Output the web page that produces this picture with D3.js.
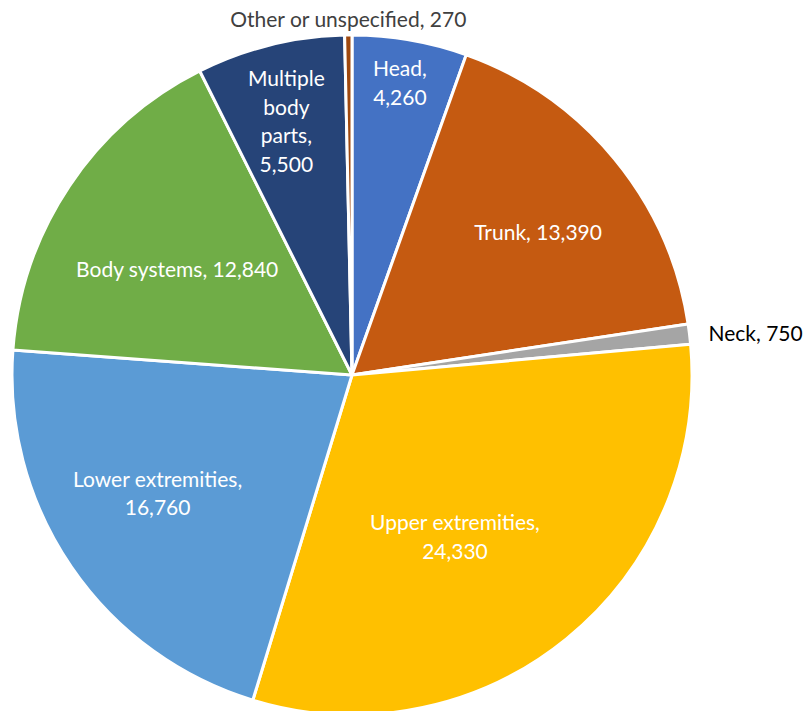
<!DOCTYPE html>
<html><head><meta charset="utf-8">
<script src="https://cdn.jsdelivr.net/npm/d3@7"></script>
<style>body{margin:0;background:#fff}svg{display:block}</style>
</head><body>
<svg id="c" width="808" height="711"></svg>
<script>
const categories = ["Head","Trunk","Neck","Upper extremities","Lower extremities","Body systems","Multiple body parts","Other or unspecified"];
const values = [4260,13390,750,24330,16760,12840,5500,270];
const labelLines = [["Head,","4,260"],["Trunk, 13,390"],["Neck, 750"],["Upper extremities,","24,330"],["Lower extremities,","16,760"],["Body systems, 12,840"],["Multiple","body","parts,","5,500"],["Other or unspecified, 270"]];
const colors = ["#4472C4","#C55A11","#A5A5A5","#FFC000","#5B9BD5","#70AD47","#264478","#9E480E"];

// layout
const labelRadiusFrac = [0.87,0.69,null,0.565,0.67,0.6,0.77,null];
const labelAngleOff = [-0.5,2,0,6.7,3,-2.8,-0.6,0];
const cx=352, cy=375, R=340;
const svg=d3.select("#c");
const g=svg.append("g").attr("transform",`translate(${cx},${cy})`);
const data=categories.map((c,i)=>({c,v:values[i],i}));
const pie=d3.pie().value(d=>d.v).sort(null);
const arcs=pie(data);
const arc=d3.arc().innerRadius(0).outerRadius(R);
g.selectAll("path").data(arcs).join("path")
 .attr("d",arc).attr("fill",d=>colors[d.data.i])
 .attr("stroke","#fff").attr("stroke-width",3).attr("stroke-linejoin","round");
const font="Lato, 'Open Sans', sans-serif";
const fs=21, lh=28.5;
arcs.forEach((a,i)=>{
  const lines=labelLines[i];
  let x,y,anchor="middle",fill="#fff";
  const m=(a.startAngle+a.endAngle)/2 + labelAngleOff[i]*Math.PI/180;
  if(labelRadiusFrac[i]!=null){
    const r=R*labelRadiusFrac[i];
    x=r*Math.sin(m); y=-r*Math.cos(m);
  } else if(i===2){
    x=R*Math.sin(m)+19; y=-R*Math.cos(m); anchor="start"; fill="#000";
  } else {
    x=R*Math.sin(m); y=-R-15; fill="#404040";
  }
  const t=g.append("text").attr("text-anchor",anchor).attr("font-family",font)
   .attr("font-size",fs).attr("fill",fill);
  const y0=y-(lines.length-1)*lh/2;
  lines.forEach((l,k)=>t.append("tspan").attr("x",x).attr("y",y0+k*lh).attr("dy","0.35em").text(l));
});
</script>
</body></html>
